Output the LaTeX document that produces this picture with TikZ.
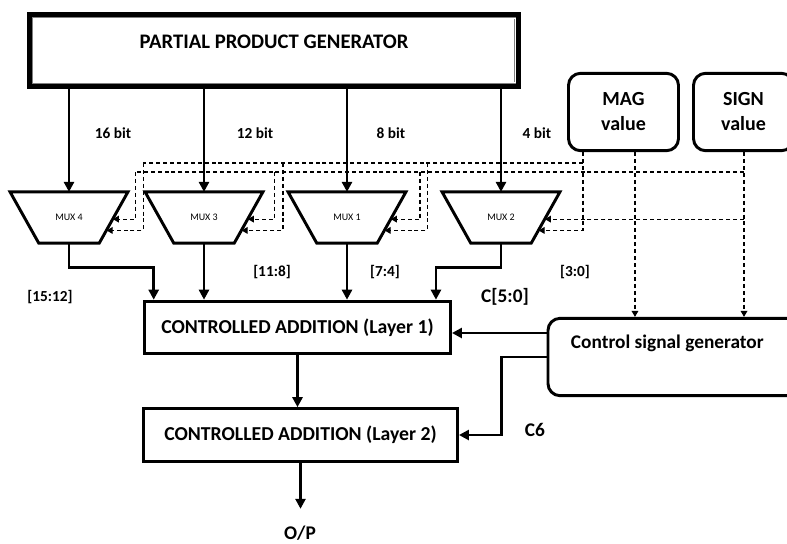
\documentclass[tikz,border=0pt]{standalone}
\usepackage{fontspec}
\setmainfont{Carlito}
\usetikzlibrary{arrows.meta}

\tikzset{
  ppgbox/.style={draw, line width=3.5pt, minimum width=367pt, minimum height=54pt, inner sep=0pt},
  addbox/.style={draw, line width=2.2pt, minimum height=39.5pt, inner sep=0pt, font=\fontsize{14.8}{17}\selectfont\bfseries},
  valbox/.style={draw, line width=2.2pt, rounded corners=9pt, minimum height=58pt, inner sep=0pt, align=center, font=\fontsize{15}{18.75}\selectfont\bfseries},
  muxbox/.style={minimum width=88pt, minimum height=38pt, inner sep=0pt, font=\fontsize{7.5}{9}\selectfont},
  muxline/.style={line width=2.2pt},
  bus/.style={line width=2.2pt, -{Triangle[length=7.5pt,width=7.5pt]}},
  ctrl/.style={line width=0.9pt, dash pattern=on 3pt off 2.2pt, -{Triangle[length=4.5pt,width=5pt]}},
  ctrlline/.style={line width=0.9pt, dash pattern=on 3pt off 2.2pt},
  lbl/.style={font=\fontsize{11.5}{13}\selectfont\bfseries},
  biglbl/.style={font=\fontsize{14.5}{17}\selectfont\bfseries}
}

\begin{document}
\begin{tikzpicture}[x=0.75pt, y=-0.75pt]
  \useasboundingbox (0,0) rectangle (787,543);

  % Partial product generator
  \node[ppgbox] (ppg) at (274,50.5) {};
  \draw[draw=gray, double=white, double distance=0.6pt, line width=0.6pt]
    ([shift={(4.5pt,-4.5pt)}]ppg.north west) rectangle ([shift={(-4.5pt,4.5pt)}]ppg.south east);
  \node[biglbl, font=\fontsize{15.5}{17}\selectfont\bfseries] (ppgtext) at ([yshift=-22pt]ppg.north) {PARTIAL PRODUCT GENERATOR};

  % Multiplexers
  \node[muxbox] (mux4) at (69,217.5) {MUX 4};
  \node[muxbox] (mux3) at (204,217.5) {MUX 3};
  \node[muxbox] (mux1) at (347,217.5) {MUX 1};
  \node[muxbox] (mux2) at (501,217.5) {MUX 2};
  \foreach \m in {mux4,mux3,mux1,mux2} {
    \draw[muxline] (\m.north west) -- (\m.north east) -- ([xshift=-21.5pt]\m.south east)
      -- ([xshift=21.5pt]\m.south west) -- cycle;
    \coordinate (\m-in1) at ([shift={(-11.3pt,18pt)}]\m.south east);
    \coordinate (\m-in2) at ([shift={(-16pt,9.5pt)}]\m.south east);
  }

  % Partial products into the multiplexers
  \foreach \m in {mux4,mux3,mux1,mux2}
    \draw[bus] (ppg.south -| \m.north) -- (\m.north);
  \node[lbl] at (113,133) {16 bit};
  \node[lbl] at (255,133) {12 bit};
  \node[lbl] at (391,133) {8 bit};
  \node[lbl] at (537,133) {4 bit};

  % MAG and SIGN inputs
  \node[valbox, minimum width=82.5pt] (mag) at (623.5,112) {MAG\\value};
  \node[valbox, minimum width=75pt] (sign) at (743.5,112) {SIGN\\value};

  % Adders and control signal generator
  \node[addbox, minimum width=229.5pt] (add1) at (297.5,327.5) {CONTROLLED ADDITION (Layer 1)};
  \node[addbox, minimum width=235.5pt] (add2) at (300.5,435) {CONTROLLED ADDITION (Layer 2)};
  \node[valbox, minimum width=189pt] (csg) at (674,357) {};
  \node[biglbl] (csgtext) at ([xshift=-5pt,yshift=-19.5pt]csg.north) {Control signal generator};

  % Dashed select lines
  \coordinate (mbus) at (583,163);
  \coordinate (sbus) at (744,172);
  \draw[ctrl] (mag.south -| mbus) |- (mux2-in2);
  \draw[ctrlline] (mbus) -- ([xshift=11.5pt]mux4.north east |- mbus);
  \draw[ctrl] (sign.south -| sbus) -- (csg.north -| sbus);
  \draw[ctrlline] (sbus) -- ([xshift=5.5pt]mux4.north east |- sbus);
  \draw[ctrl] (sbus |- mux2-in1) -- (mux2-in1);
  \draw[ctrl] ([xshift=8.6pt]mag.south) -- ([xshift=8.6pt]mag.south |- csg.north);
  \foreach \m/\xi/\xo in {mux4/5.5pt/11.5pt, mux3/8.5pt/15pt, mux1/10.5pt/16pt} {
    \draw[ctrl] ([xshift=\xo]\m.north east |- mbus) |- (\m-in2);
    \draw[ctrl] ([xshift=\xi]\m.north east |- sbus) |- (\m-in1);
  }

  % Multiplexer outputs into layer 1
  \draw[bus] (mux4.south) -- ++(0,24) -| ([xshift=8pt]add1.north west);
  \draw[bus] (mux3.south) -- (mux3.south |- add1.north);
  \draw[bus] (mux1.south) -- (mux1.south |- add1.north);
  \draw[bus] (mux2.south) -- ++(0,24) -| ([xshift=-12pt]add1.north east);
  \node[lbl] at (50,297) {[15:12]};
  \node[lbl] at (272,272) {[11:8]};
  \node[lbl] at (385,272) {[7:4]};
  \node[lbl] at (575,272) {[3:0]};
  \node[biglbl] at (505,297) {C[5:0]};

  % Control signals and output
  \draw[bus] ([yshift=18pt]csg.west) -- ([yshift=18pt]csg.west -| add1.east);
  \draw[bus] (csg.west) -- ++(-45,0) |- (add2.east);
  \node[biglbl] at (535,430) {C6};
  \draw[bus] (add1.south) -- (add1.south |- add2.north);
  \node[biglbl] (op) at (300,533) {O/P};
  \draw[bus] (add2.south) -- ++(0,46);
\end{tikzpicture}
\end{document}
